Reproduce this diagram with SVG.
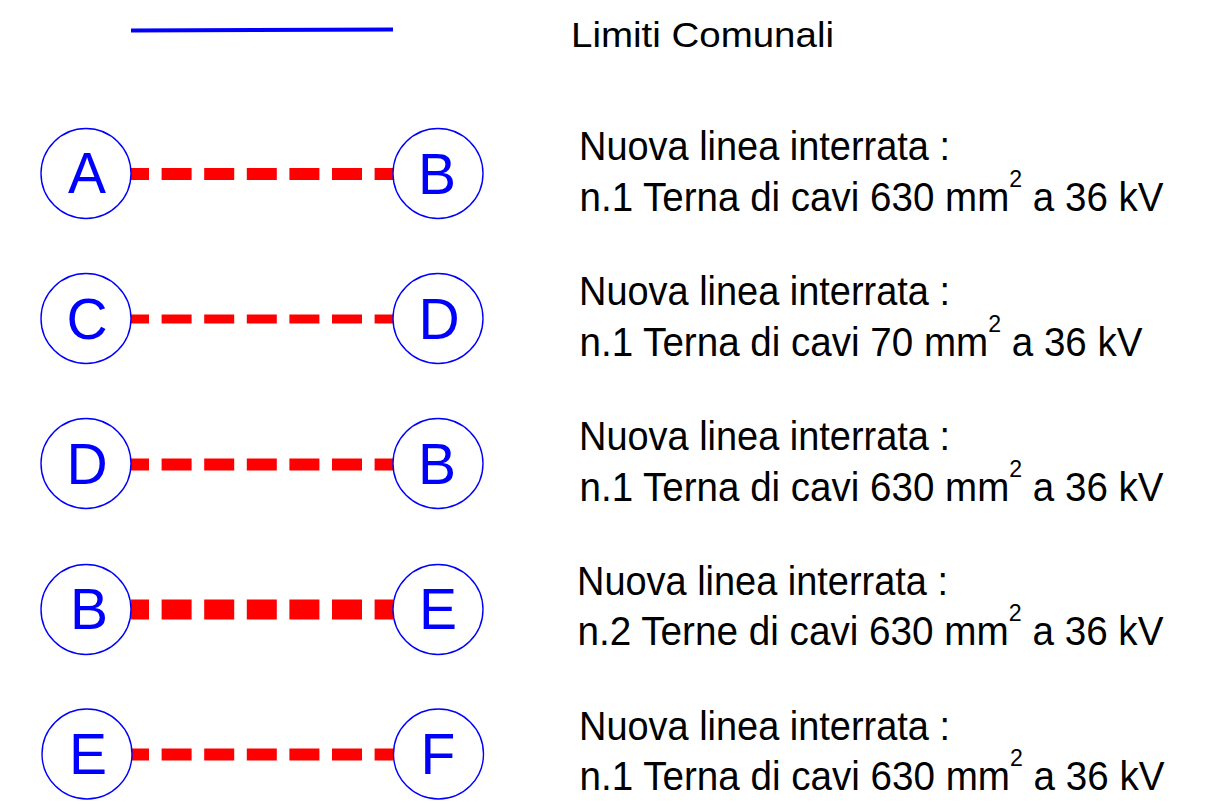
<svg xmlns="http://www.w3.org/2000/svg" width="1213" height="804" viewBox="0 0 1213 804">
<style>
.node circle{fill:#fff;stroke:#0000ff;stroke-width:1.4}
.node text{font-family:"Liberation Sans",Arial,sans-serif;font-size:57px;fill:#0000ff;text-anchor:middle}
.lbl{font-family:"Liberation Sans",Arial,sans-serif;font-size:40px;fill:#000}
.sup{font-size:24px}
.cable{stroke:#ff0000;stroke-dasharray:30 12.6;stroke-dashoffset:12;fill:none}
</style>
<rect width="1213" height="804" fill="#fff"/>
<g id="legend-limiti">
<line x1="131" y1="30.5" x2="393" y2="29.5" stroke="#0000ff" stroke-width="4"/>
<text x="571" y="47" font-family="Liberation Sans, Arial, sans-serif" font-size="35" textLength="263" lengthAdjust="spacingAndGlyphs">Limiti Comunali</text>
</g>
<g id="connectors">
<line class="cable" x1="131" y1="174" x2="393" y2="174" stroke-width="12"/>
<line class="cable" x1="131" y1="319" x2="393" y2="319" stroke-width="9"/>
<line class="cable" x1="131" y1="464.5" x2="393" y2="464.5" stroke-width="12"/>
<line class="cable" x1="131" y1="609.5" x2="393" y2="609.5" stroke-width="20"/>
<line class="cable" x1="131" y1="754.5" x2="393" y2="754.5" stroke-width="12"/>
</g>
<g id="node-A1" class="node"><circle cx="86" cy="173.5" r="45"/><text x="87" y="193">A</text></g>
<g id="node-B1" class="node"><circle cx="438" cy="173.5" r="45"/><text x="437" y="193.5">B</text></g>
<g id="node-C2" class="node"><circle cx="86" cy="318.5" r="45"/><text x="87" y="338.5">C</text></g>
<g id="node-D2" class="node"><circle cx="438" cy="318.5" r="45"/><text x="439" y="338.5">D</text></g>
<g id="node-D3" class="node"><circle cx="86" cy="463.5" r="45"/><text x="87" y="483.5">D</text></g>
<g id="node-B3" class="node"><circle cx="438" cy="463.5" r="45"/><text x="437" y="483.5">B</text></g>
<g id="node-B4" class="node"><circle cx="86" cy="609.5" r="45"/><text x="89" y="629">B</text></g>
<g id="node-E4" class="node"><circle cx="438" cy="609.5" r="45"/><text x="438" y="629">E</text></g>
<g id="node-E5" class="node"><circle cx="87" cy="754" r="45"/><text x="88" y="774">E</text></g>
<g id="node-F5" class="node"><circle cx="438.5" cy="754" r="45"/><text x="438" y="774">F</text></g>
<g id="labels">
<text class="lbl" x="579" y="160" textLength="371" lengthAdjust="spacingAndGlyphs">Nuova linea interrata :</text>
<text class="lbl" x="579.5" y="211" textLength="584" lengthAdjust="spacingAndGlyphs">n.1 Terna di cavi 630 mm<tspan class="sup" dy="-24">2</tspan><tspan dy="24"> a 36 kV</tspan></text>
<text class="lbl" x="579" y="305" textLength="371" lengthAdjust="spacingAndGlyphs">Nuova linea interrata :</text>
<text class="lbl" x="579.5" y="356" textLength="563" lengthAdjust="spacingAndGlyphs">n.1 Terna di cavi 70 mm<tspan class="sup" dy="-24">2</tspan><tspan dy="24"> a 36 kV</tspan></text>
<text class="lbl" x="579" y="450" textLength="371" lengthAdjust="spacingAndGlyphs">Nuova linea interrata :</text>
<text class="lbl" x="579.5" y="501" textLength="584" lengthAdjust="spacingAndGlyphs">n.1 Terna di cavi 630 mm<tspan class="sup" dy="-24">2</tspan><tspan dy="24"> a 36 kV</tspan></text>
<text class="lbl" x="577" y="595" textLength="371" lengthAdjust="spacingAndGlyphs">Nuova linea interrata :</text>
<text class="lbl" x="577.5" y="645" textLength="586" lengthAdjust="spacingAndGlyphs">n.2 Terne di cavi 630 mm<tspan class="sup" dy="-24">2</tspan><tspan dy="24"> a 36 kV</tspan></text>
<text class="lbl" x="579" y="740" textLength="371" lengthAdjust="spacingAndGlyphs">Nuova linea interrata :</text>
<text class="lbl" x="579.5" y="790" textLength="585" lengthAdjust="spacingAndGlyphs">n.1 Terna di cavi 630 mm<tspan class="sup" dy="-24">2</tspan><tspan dy="24"> a 36 kV</tspan></text>
</g>
</svg>
